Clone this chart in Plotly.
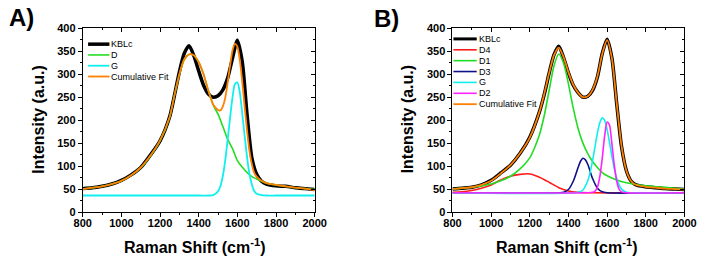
import plotly.graph_objects as go

W, H = 709, 261

# ---------------- Panel A data ----------------
xa = [800, 850, 900, 950, 1000, 1050, 1100, 1150, 1200, 1250, 1275, 1300, 1325, 1350,
      1375, 1400, 1425, 1450, 1475, 1500, 1525, 1550, 1575, 1600, 1625, 1650, 1675,
      1700, 1725, 1750, 1800, 1850, 1900, 1950, 2000]
kblc_a = [51, 53, 56, 61, 69, 81, 97, 124, 155, 208, 255, 305, 345, 362,
          340, 307, 276, 257, 250, 253, 266, 292, 335, 374, 328, 213, 118,
          82, 67, 61, 57, 56, 53, 51, 49]
d_a = [50, 53, 56, 61, 68, 80, 96, 122, 155, 207, 255, 300, 332, 343,
       341, 326, 300, 264, 233, 213, 186, 158, 138, 112, 98, 86, 77,
       72, 67, 63, 59, 56, 53, 51, 49]

xg_a = [800, 1400, 1450, 1475, 1500, 1512, 1525, 1537, 1550, 1562, 1575, 1587, 1600,
        1612, 1625, 1637, 1650, 1662, 1675, 1687, 1700, 1725, 1750, 1800, 2000]
g_a = [36, 36, 36, 37, 45, 56, 79, 112, 158, 204, 250, 278, 282,
       262, 216, 168, 120, 84, 60, 46, 40, 37, 36, 36, 36]

xf_a = [800, 850, 900, 950, 1000, 1050, 1100, 1150, 1200, 1250, 1275, 1300, 1325, 1350,
        1375, 1400, 1425, 1450, 1475, 1500, 1512, 1525, 1537, 1550, 1562, 1575, 1587,
        1600, 1612, 1625, 1637, 1650, 1662, 1675, 1687, 1700, 1725, 1750, 1800, 1850,
        1900, 1950, 2000]
fit_a = [50, 53, 56, 61, 68, 80, 97, 123, 156, 207, 255, 300, 332, 343,
         341, 326, 300, 264, 234, 222, 221, 230, 248, 282, 318, 352, 366,
         360, 332, 285, 232, 178, 135, 104, 86, 77, 68, 63, 59, 56,
         53, 51, 48]

# ---------------- Panel B data ----------------
xb = [800, 850, 900, 950, 1000, 1050, 1100, 1150, 1200, 1250, 1275, 1300, 1325, 1350,
      1375, 1400, 1425, 1450, 1475, 1500, 1525, 1550, 1575, 1600, 1625, 1650, 1675,
      1700, 1725, 1750, 1800, 1850, 1900, 1950, 2000]
kblc_b = [50, 52, 54, 59, 69, 85, 102, 128, 163, 218, 256, 302, 342, 361,
          336, 303, 276, 260, 250, 252, 265, 294, 345, 376, 335, 235, 142,
          90, 67, 59, 55, 53, 51, 50, 49]
fit_b = [50, 52, 54, 59, 68, 84, 102, 128, 162, 218, 257, 302, 341, 358,
         337, 304, 277, 260, 250, 252, 266, 295, 344, 374, 334, 236, 143,
         90, 67, 59, 55, 53, 51, 50, 49]

xd4 = [800, 850, 900, 950, 1000, 1050, 1100, 1150, 1200, 1250, 1300, 1350, 1400, 1450, 1500, 2000]
d4_b = [43, 44, 47, 52, 59, 70, 78, 82, 83, 76, 65, 53, 46, 43, 42, 42]

xd1 = [800, 850, 900, 950, 1000, 1050, 1100, 1150, 1200, 1225, 1250, 1275, 1300, 1325, 1350,
       1375, 1400, 1425, 1450, 1475, 1500, 1525, 1550, 1575, 1600, 1650, 1700, 1750, 1800,
       1900, 2000]
d1_b = [50, 52, 54, 57, 61, 68, 78, 94, 118, 140, 168, 210, 264, 318, 344,
        324, 279, 226, 182, 150, 127, 110, 97, 86, 79, 70, 64, 60, 57,
        54, 50]

xd3 = [800, 1350, 1375, 1400, 1425, 1450, 1462, 1475, 1487, 1500, 1525, 1550, 1575, 1600, 2000]
d3_b = [42, 42, 43, 49, 67, 97, 110, 117, 114, 104, 73, 52, 44, 42, 42]

xgb = [800, 1450, 1475, 1500, 1512, 1525, 1537, 1550, 1562, 1575, 1587, 1600, 1612, 1625,
       1637, 1650, 1662, 1675, 1700, 1725, 2000]
g_b = [42, 43, 48, 68, 86, 112, 141, 172, 194, 205, 200, 180, 153, 121,
       95, 73, 59, 50, 43, 42, 42]

xd2 = [800, 1500, 1525, 1537, 1550, 1562, 1575, 1587, 1600, 1612, 1625, 1637, 1650, 1662,
       1675, 1700, 2000]
d2_b = [42, 42, 43, 45, 54, 76, 117, 164, 196, 190, 148, 103, 67, 50,
        44, 42, 42]

x_ticks = [800, 1000, 1200, 1400, 1600, 1800, 2000]
y_ticks = [0, 50, 100, 150, 200, 250, 300, 350, 400]

legend_a = ["KBLc", "D", "G", "Cumulative Fit"]
legend_b = ["KBLc", "D4", "D1", "D3", "G", "D2", "Cumulative Fit"]

BLACK = "#000000"
GREEN = "#22dd22"
CYAN = "#11eeee"
ORANGE = "#ff8000"
RED = "#ff1a1a"
NAVY = "#10108a"
MAGENTA = "#ff22ff"

FONT = "Arial, Liberation Sans, sans-serif"

fig = go.Figure()

def add(x, y, color, width, name, xa_, ya_):
    fig.add_trace(go.Scatter(x=x, y=y, mode="lines", name=name, showlegend=False,
                             line=dict(color=color, width=width, shape="spline", smoothing=0.7),
                             xaxis=xa_, yaxis=ya_, hoverinfo="skip"))

# Panel A
add(xa, kblc_a, BLACK, 3.5, "KBLc", "x", "y")
add(xa, d_a, GREEN, 1.6, "D", "x", "y")
add(xg_a, g_a, CYAN, 1.8, "G", "x", "y")
add(xf_a, fit_a, ORANGE, 1.8, "Cumulative Fit", "x", "y")

# Panel B
add(xb, kblc_b, BLACK, 3.5, "KBLc", "x2", "y2")
add(xd4, d4_b, RED, 1.6, "D4", "x2", "y2")
add(xd1, d1_b, GREEN, 1.6, "D1", "x2", "y2")
add(xd3, d3_b, NAVY, 1.6, "D3", "x2", "y2")
add(xgb, g_b, CYAN, 1.6, "G", "x2", "y2")
add(xd2, d2_b, MAGENTA, 1.6, "D2", "x2", "y2")
add(xb, fit_b, ORANGE, 1.8, "Cumulative Fit", "x2", "y2")

def px_x(p):
    return p / W

def px_y(p):
    return 1 - p / H

y_bot, y_top = 216, 23.3
dom_y = [px_y(y_bot), px_y(y_top)]
dom_a = [px_x(76), px_x(315)]
dom_b = [px_x(457), px_x(696)]

tickfont = dict(family=FONT, size=11, color="black", weight="bold")

def xaxis_main(dom, anchor):
    return dict(domain=dom, anchor=anchor, range=[800, 2000], tickvals=x_ticks,
                ticks="outside", ticklen=4, tickwidth=1, tickcolor="black",
                minor=dict(dtick=100, tick0=800, ticks="outside", ticklen=2, tickcolor="black"),
                showline=True, linecolor="black", linewidth=1, mirror=True,
                ticklabelstandoff=-3,
                showgrid=False, zeroline=False, tickfont=tickfont, fixedrange=True)

def yaxis_main(dom, anchor):
    return dict(domain=dom, anchor=anchor, range=[0, 400], tickvals=y_ticks,
                ticks="outside", ticklen=4, tickwidth=1, tickcolor="black",
                minor=dict(dtick=25, tick0=0, ticks="outside", ticklen=2, tickcolor="black"),
                showline=True, linecolor="black", linewidth=1, mirror=True,
                showgrid=False, zeroline=False, tickfont=tickfont, fixedrange=True)

def xaxis_top(over, anchor):
    return dict(overlaying=over, anchor=anchor, side="top", range=[800, 2000],
                tickvals=x_ticks, ticks="inside", ticklen=4, tickcolor="black",
                minor=dict(dtick=100, tick0=800, ticks="inside", ticklen=2, tickcolor="black"),
                showticklabels=False, showline=False, showgrid=False, zeroline=False,
                fixedrange=True)

def yaxis_right(over, anchor):
    return dict(overlaying=over, anchor=anchor, side="right", range=[0, 400],
                tickvals=y_ticks, ticks="inside", ticklen=4, tickcolor="black",
                minor=dict(dtick=25, tick0=0, ticks="inside", ticklen=2, tickcolor="black"),
                showticklabels=False, showline=False, showgrid=False, zeroline=False,
                fixedrange=True)

fig.update_layout(
    width=W, height=H, margin=dict(l=0, r=0, t=0, b=0),
    paper_bgcolor="white", plot_bgcolor="white", showlegend=False,
    xaxis=xaxis_main(dom_a, "y"), yaxis=yaxis_main(dom_y, "x"),
    xaxis2=xaxis_main(dom_b, "y2"), yaxis2=yaxis_main(dom_y, "x2"),
    xaxis3=xaxis_top("x", "y"), yaxis3=yaxis_right("y", "x"),
    xaxis4=xaxis_top("x2", "y2"), yaxis4=yaxis_right("y2", "x2"),
)

# empty traces so overlay axes are instantiated
fig.add_trace(go.Scatter(x=[], y=[], xaxis="x3", yaxis="y3", showlegend=False))
fig.add_trace(go.Scatter(x=[], y=[], xaxis="x4", yaxis="y4", showlegend=False))

ann = []
shapes = []
title_font = dict(family=FONT, size=16, color="black", weight="bold")
xtitle = "Raman Shift (cm<sup>-1</sup>)"
ann.append(dict(text=xtitle, x=px_x(192), y=px_y(252), xref="paper", yref="paper",
                showarrow=False, font=title_font, xanchor="center", yanchor="middle"))
ann.append(dict(text=xtitle, x=px_x(575.5), y=px_y(252), xref="paper", yref="paper",
                showarrow=False, font=title_font, xanchor="center", yanchor="middle"))
ann.append(dict(text="Intensity (a.u.)", x=px_x(30), y=px_y(119), xref="paper", yref="paper",
                showarrow=False, font=title_font, textangle=-90, xanchor="center", yanchor="middle"))
ann.append(dict(text="Intensity (a.u.)", x=px_x(411), y=px_y(119), xref="paper", yref="paper",
                showarrow=False, font=title_font, textangle=-90, xanchor="center", yanchor="middle"))

label_font = dict(family=FONT, size=24, color="black", weight="bold")
ann.append(dict(text="A)", x=px_x(12.5), y=px_y(12), xref="paper", yref="paper", showarrow=False,
                font=label_font, xanchor="center", yanchor="middle"))
ann.append(dict(text="B)", x=px_x(389.5), y=px_y(13), xref="paper", yref="paper", showarrow=False,
                font=label_font, xanchor="center", yanchor="middle"))

leg_font = dict(family=FONT, size=9, color="black")

def legend(names, colors, widths, x0, x1, xt, ytop, step):
    for i, (n, c, w) in enumerate(zip(names, colors, widths)):
        yy = ytop + i * step
        shapes.append(dict(type="line", xref="paper", yref="paper",
                           x0=px_x(x0), x1=px_x(x1), y0=px_y(yy), y1=px_y(yy),
                           line=dict(color=c, width=w)))
        ann.append(dict(text=n, x=px_x(xt), y=px_y(yy), xref="paper", yref="paper",
                        showarrow=False, font=leg_font, xanchor="left", yanchor="middle"))

legend(legend_a, [BLACK, GREEN, CYAN, ORANGE], [3.5, 1.6, 1.8, 1.8], 81.5, 103.5, 103.5, 40, 11.3)
legend(legend_b, [BLACK, RED, GREEN, NAVY, CYAN, MAGENTA, ORANGE], [3, 1.6, 1.6, 1.6, 1.6, 1.6, 1.8],
       458, 482, 482, 34.5, 11.4)

fig.update_layout(annotations=ann, shapes=shapes)
fig.write_html("out.html", config={"displayModeBar": False},
               post_script="document.body.style.margin='0';document.body.style.padding='0';")
